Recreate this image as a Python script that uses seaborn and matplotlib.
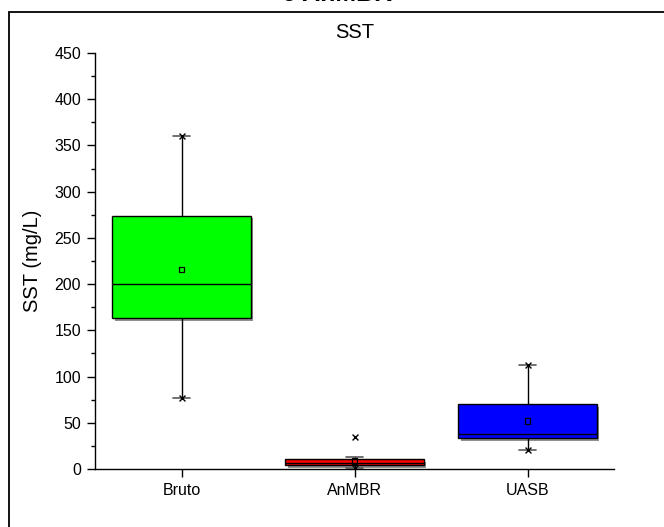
import matplotlib
matplotlib.use("Agg")
import matplotlib.pyplot as plt
import matplotlib.patheffects as pe
from matplotlib.patches import Rectangle
import seaborn as sns
import pandas as pd

categories = ["Bruto", "AnMBR", "UASB"]
q1 = [163, 4.5, 33.5]
median = [200, 7, 38]
q3 = [274, 10.5, 70]
whisker_low = [77, 1, 20.5]
whisker_high = [360, 12.5, 112.5]
means = [216, 8.5, 52]
minimum = [77, 1, 20.5]
maximum = [360, 35, 112.5]
box_colors = ["#00FF00", "#FF0000", "#0000FF"]
yticks = [0, 50, 100, 150, 200, 250, 300, 350, 400, 450]

sns.set_style("ticks")
plt.rcParams["font.family"] = ["Liberation Sans", "DejaVu Sans"]
plt.rcParams.update({"text.color": "black", "axes.labelcolor": "black",
                     "xtick.color": "black", "ytick.color": "black",
                     "axes.edgecolor": "black"})

fig = plt.figure(figsize=(6.64, 5.27), dpi=100)
ax = fig.add_axes([95/664, 1-469/527, (614-95)/664, (469-53)/527])

stats = []
for i, c in enumerate(categories):
    stats.append(dict(label=c, q1=q1[i], med=median[i], q3=q3[i],
                      whislo=whisker_low[i], whishi=whisker_high[i],
                      mean=means[i], fliers=[]))

shadow = [pe.SimplePatchShadow(offset=(2, -2), shadow_rgbFace="0.45", alpha=0.8), pe.Normal()]
bp = ax.bxp(stats, positions=range(len(categories)), widths=0.8, patch_artist=True,
            showmeans=False, showfliers=False, capwidths=0.1,
            boxprops=dict(linewidth=1.0, edgecolor="black"),
            medianprops=dict(color="black", linewidth=1.0),
            whiskerprops=dict(color="black", linewidth=1.0),
            capprops=dict(color="0.35", linewidth=1.2))
for patch, col in zip(bp["boxes"], box_colors):
    patch.set_facecolor(col)
    patch.set_path_effects(shadow)

df_mean = pd.DataFrame({"x": range(len(categories)), "y": means})
sns.scatterplot(data=df_mean, x="x", y="y", ax=ax, marker="s", s=16,
                facecolor="none", edgecolor="black", linewidth=0.9, zorder=5)
ext_x = list(range(len(categories))) * 2
ext_y = minimum + maximum
df_ext = pd.DataFrame({"x": ext_x, "y": ext_y})
sns.scatterplot(data=df_ext, x="x", y="y", ax=ax, marker="x", s=18,
                color="black", linewidth=1.0, zorder=5)

ax.set_xlim(-0.5, 2.5)
ax.set_ylim(0, 450)
ax.set_xticks(range(len(categories)))
ax.set_xticklabels(categories, fontsize=11.5)
ax.set_yticks(yticks)
ax.set_yticklabels([str(v) for v in yticks], fontsize=11.5)
ax.set_yticks([v + 25 for v in yticks[:-1]], minor=True)
ax.tick_params(axis="both", which="major", direction="out", length=6, width=1,
               colors="black", pad=4)
ax.tick_params(axis="y", which="minor", direction="out", length=3, width=1, colors="black")
ax.set_xlabel("")
ax.set_ylabel("SST (mg/L)", fontsize=14.5, labelpad=9, color="black")
ax.set_title("SST", fontsize=14.5, pad=11, color="black")
sns.despine(ax=ax)
for s in ["left", "bottom"]:
    ax.spines[s].set_linewidth(1.0)
    ax.spines[s].set_color("black")

# outer frame (cut off at right and bottom)
fig.patches.append(Rectangle((9/664, -0.2), 1.2, 1 - 12/527 + 0.2, transform=fig.transFigure,
                             fill=False, edgecolor="black", linewidth=1.3, clip_on=False))
fig.text(337/664, 1 - 6/527, "e AnMBR", ha="center", va="bottom", fontsize=18,
         fontweight="bold")

fig.savefig("out.png", dpi=100)
